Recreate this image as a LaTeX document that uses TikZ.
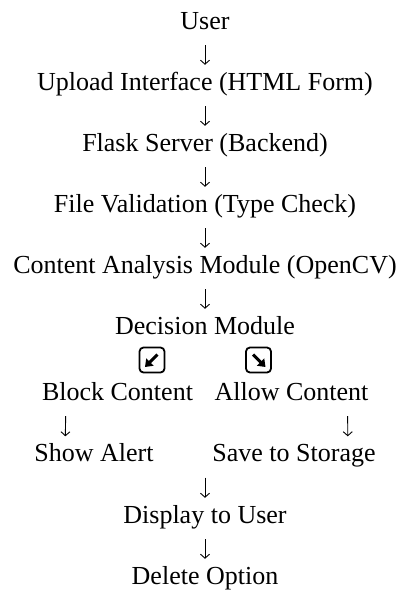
\documentclass[tikz,border=0pt]{standalone}
\usepackage{fontspec}
\setmainfont{Liberation Serif}
\usetikzlibrary{arrows.meta}

\begin{document}
\begin{tikzpicture}[x=1pt, y=1pt,
  txt/.style={inner sep=0pt, anchor=base, text height=18.2pt, text depth=5.7pt,
    font=\fontsize{26}{31}\selectfont},
  pick/.style={draw, line width=1.8pt, rounded corners=4pt, minimum size=25pt, inner sep=0pt},
  tick/.style={line width=3pt, -{Triangle[length=7pt, width=10pt]}},
  flow/.style={line width=0.9pt, -{Straight Barb[length=4pt, width=9pt]},
    shorten <=10.3pt, shorten >=6.8pt}]
  \useasboundingbox (0,0) rectangle (398,-590);
  % main chain
  \node[txt] (user) at (205,-29) {User};
  \node[txt] (upload) at (205,-90) {Upload Interface (HTML Form)};
  \node[txt] (flask) at (205,-151) {Flask Server (Backend)};
  \node[txt] (valid) at (205,-212) {File Validation (Type Check)};
  \node[txt] (analysis) at (205,-273) {Content Analysis Module (OpenCV)};
  \node[txt] (decision) at (205,-334) {Decision Module};
  % the two boxed arrows
  \node[pick] (pickl) at (152,-360) {};
  \node[pick] (pickr) at (258.5,-360) {};
  \draw[tick] ([shift={(5.5,5.5)}]pickl.center) -- ([shift={(-7,-7)}]pickl.center);
  \draw[tick] ([shift={(-5.5,5.5)}]pickr.center) -- ([shift={(7,-7)}]pickr.center);
  % branches
  \node[txt] (block) at (117.5,-400) {Block Content};
  \node[txt] (allow) at (291.5,-400) {Allow Content};
  \node[txt] (alert) at (94,-461.5) {Show Alert};
  \node[txt] (save) at (294,-461.5) {Save to Storage};
  \node[txt] (display) at (205,-523) {Display to User};
  \node[txt] (delete) at (205,-584) {Delete Option};
  \coordinate (merge) at (display |- save.south);
  \draw[flow] (user) -- (upload);
  \draw[flow] (upload) -- (flask);
  \draw[flow] (flask) -- (valid);
  \draw[flow] (valid) -- (analysis);
  \draw[flow] (analysis) -- (decision);
  \draw[flow] ([xshift=24pt]block.south west) -- ([xshift=31pt]alert.north west);
  \draw[flow] ([xshift=-21pt]allow.south east) -- ([xshift=-28pt]save.north east);
  \draw[flow] (merge) -- (display);
  \draw[flow] (display) -- (delete);
\end{tikzpicture}
\end{document}
